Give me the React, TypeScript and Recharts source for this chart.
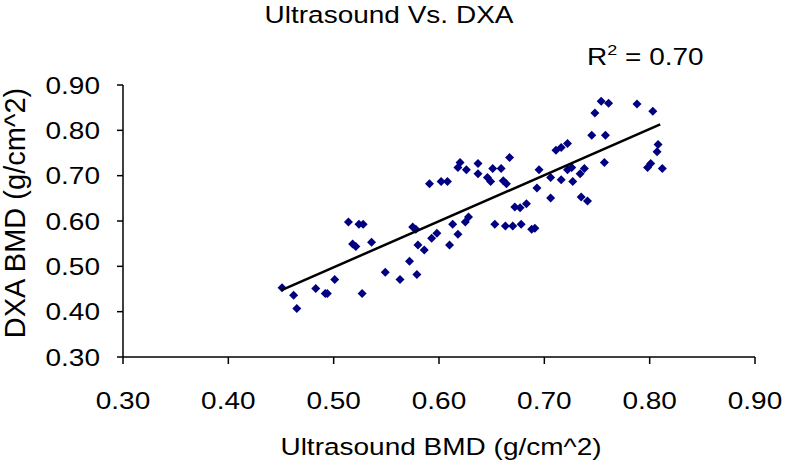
import React from 'react';
import { ScatterChart, Scatter, XAxis, YAxis } from 'recharts';

const title = 'Ultrasound Vs. DXA';
const xTitle = 'Ultrasound BMD (g/cm^2)';
const yTitle = 'DXA BMD (g/cm^2)';
const rSquared = '0.70';

const ticks = [0.3, 0.4, 0.5, 0.6, 0.7, 0.8, 0.9];

const usBmd = [
  0.451, 0.462, 0.465, 0.483, 0.492, 0.494, 0.501, 0.514, 0.524, 0.528,
  0.518, 0.521, 0.536, 0.527, 0.549, 0.563, 0.575, 0.578, 0.580, 0.586,
  0.572, 0.579, 0.593, 0.598, 0.610, 0.613, 0.618, 0.625, 0.628, 0.653,
  0.663, 0.670, 0.678, 0.688, 0.691, 0.672, 0.677, 0.683, 0.591, 0.602,
  0.608, 0.620, 0.618, 0.626, 0.637, 0.637, 0.646, 0.649, 0.651, 0.659,
  0.667, 0.661, 0.664, 0.695, 0.693, 0.754, 0.761, 0.748, 0.788, 0.803,
  0.745, 0.758, 0.722, 0.716, 0.711, 0.808, 0.807, 0.706, 0.716, 0.722,
  0.726, 0.727, 0.734, 0.738, 0.757, 0.706, 0.735, 0.741, 0.798, 0.801,
  0.812,
];
const dxaBmd = [
  0.453, 0.436, 0.407, 0.451, 0.440, 0.440, 0.471, 0.598, 0.593, 0.593,
  0.549, 0.544, 0.553, 0.440, 0.487, 0.471, 0.587, 0.582, 0.547, 0.536,
  0.511, 0.482, 0.562, 0.573, 0.547, 0.593, 0.571, 0.598, 0.609, 0.593,
  0.589, 0.589, 0.593, 0.582, 0.584, 0.631, 0.629, 0.638, 0.682, 0.687,
  0.687, 0.729, 0.718, 0.713, 0.727, 0.704, 0.696, 0.687, 0.716, 0.716,
  0.740, 0.689, 0.682, 0.713, 0.673, 0.864, 0.860, 0.838, 0.858, 0.842,
  0.789, 0.789, 0.771, 0.762, 0.756, 0.769, 0.753, 0.696, 0.691, 0.713,
  0.718, 0.687, 0.704, 0.716, 0.729, 0.651, 0.653, 0.644, 0.718, 0.727,
  0.716,
];

const trendX = [0.45, 0.81];
const trendY = [0.447, 0.813];

const points = usBmd.map((x, i) => ({ x, y: dxaBmd[i] }));
const trend = trendX.map((x, i) => ({ x, y: trendY[i] }));

const FONT = 'Arial, "Liberation Sans", sans-serif';
const FS = 28;
const SY = 0.86;

const Diamond = (props: any) => {
  const { cx, cy } = props;
  const r = 4.5;
  return (
    <polygon
      points={`${cx},${cy - r} ${cx + r},${cy} ${cx},${cy + r} ${cx - r},${cy}`}
      fill="#000080"
    />
  );
};

const XTick = (props: any) => {
  const { x, payload } = props;
  return (
    <text
      transform={`translate(${x},409) scale(1,${SY})`}
      textAnchor="middle"
      fontSize={FS}
      fontFamily={FONT}
      fill="#000"
    >
      {Number(payload.value).toFixed(2)}
    </text>
  );
};

const YTick = (props: any) => {
  const { x, y, payload } = props;
  return (
    <text
      transform={`translate(${x},${y + 8.6}) scale(1,${SY})`}
      textAnchor="end"
      fontSize={FS}
      fontFamily={FONT}
      fill="#000"
    >
      {Number(payload.value).toFixed(2)}
    </text>
  );
};

export default function App() {
  return (
    <div style={{ position: 'absolute', left: 0, top: 0, width: 787, height: 468, background: '#fff' }}>
      <ScatterChart
        width={787}
        height={468}
        margin={{ top: 85, right: 32, bottom: 0, left: 0 }}
      >
        <XAxis
          type="number"
          dataKey="x"
          domain={[0.3, 0.9]}
          ticks={ticks}
          tick={<XTick />}
          tickSize={7}
          height={111}
          stroke="#000"
          axisLine={{ stroke: '#000', strokeWidth: 1.5 }}
          tickLine={{ stroke: '#000', strokeWidth: 1.5 }}
          allowDataOverflow
        />
        <YAxis
          type="number"
          dataKey="y"
          domain={[0.3, 0.9]}
          ticks={ticks}
          tick={<YTick />}
          tickSize={6}
          tickMargin={17}
          width={123}
          stroke="#000"
          axisLine={{ stroke: '#000', strokeWidth: 1.5 }}
          tickLine={{ stroke: '#000', strokeWidth: 1.5 }}
          allowDataOverflow
        />
        <Scatter data={points} shape={<Diamond />} isAnimationActive={false} />
        <Scatter
          data={trend}
          line={{ stroke: '#000', strokeWidth: 2.5 }}
          shape={() => <g />}
          isAnimationActive={false}
        />
      </ScatterChart>
      <svg
        width={787}
        height={468}
        style={{ position: 'absolute', left: 0, top: 0, pointerEvents: 'none' }}
      >
        <text
          transform={`translate(389,23) scale(1,${SY})`}
          textAnchor="middle"
          fontSize={FS}
          fontFamily={FONT}
          fill="#000"
        >
          {title}
        </text>
        <text
          transform={`translate(587,65) scale(1,${SY})`}
          fontSize={FS}
          fontFamily={FONT}
          fill="#000"
        >
          R<tspan fontSize={18} dy={-12}>2</tspan>
          <tspan dy={12}>{` = ${rSquared}`}</tspan>
        </text>
        <text
          transform={`translate(441,455) scale(1,${SY})`}
          textAnchor="middle"
          fontSize={FS}
          fontFamily={FONT}
          fill="#000"
        >
          {xTitle}
        </text>
        <text
          transform={`translate(25,213) rotate(-90)`}
          textAnchor="middle"
          fontSize={29}
          fontFamily={FONT}
          fill="#000"
        >
          {yTitle}
        </text>
      </svg>
    </div>
  );
}
